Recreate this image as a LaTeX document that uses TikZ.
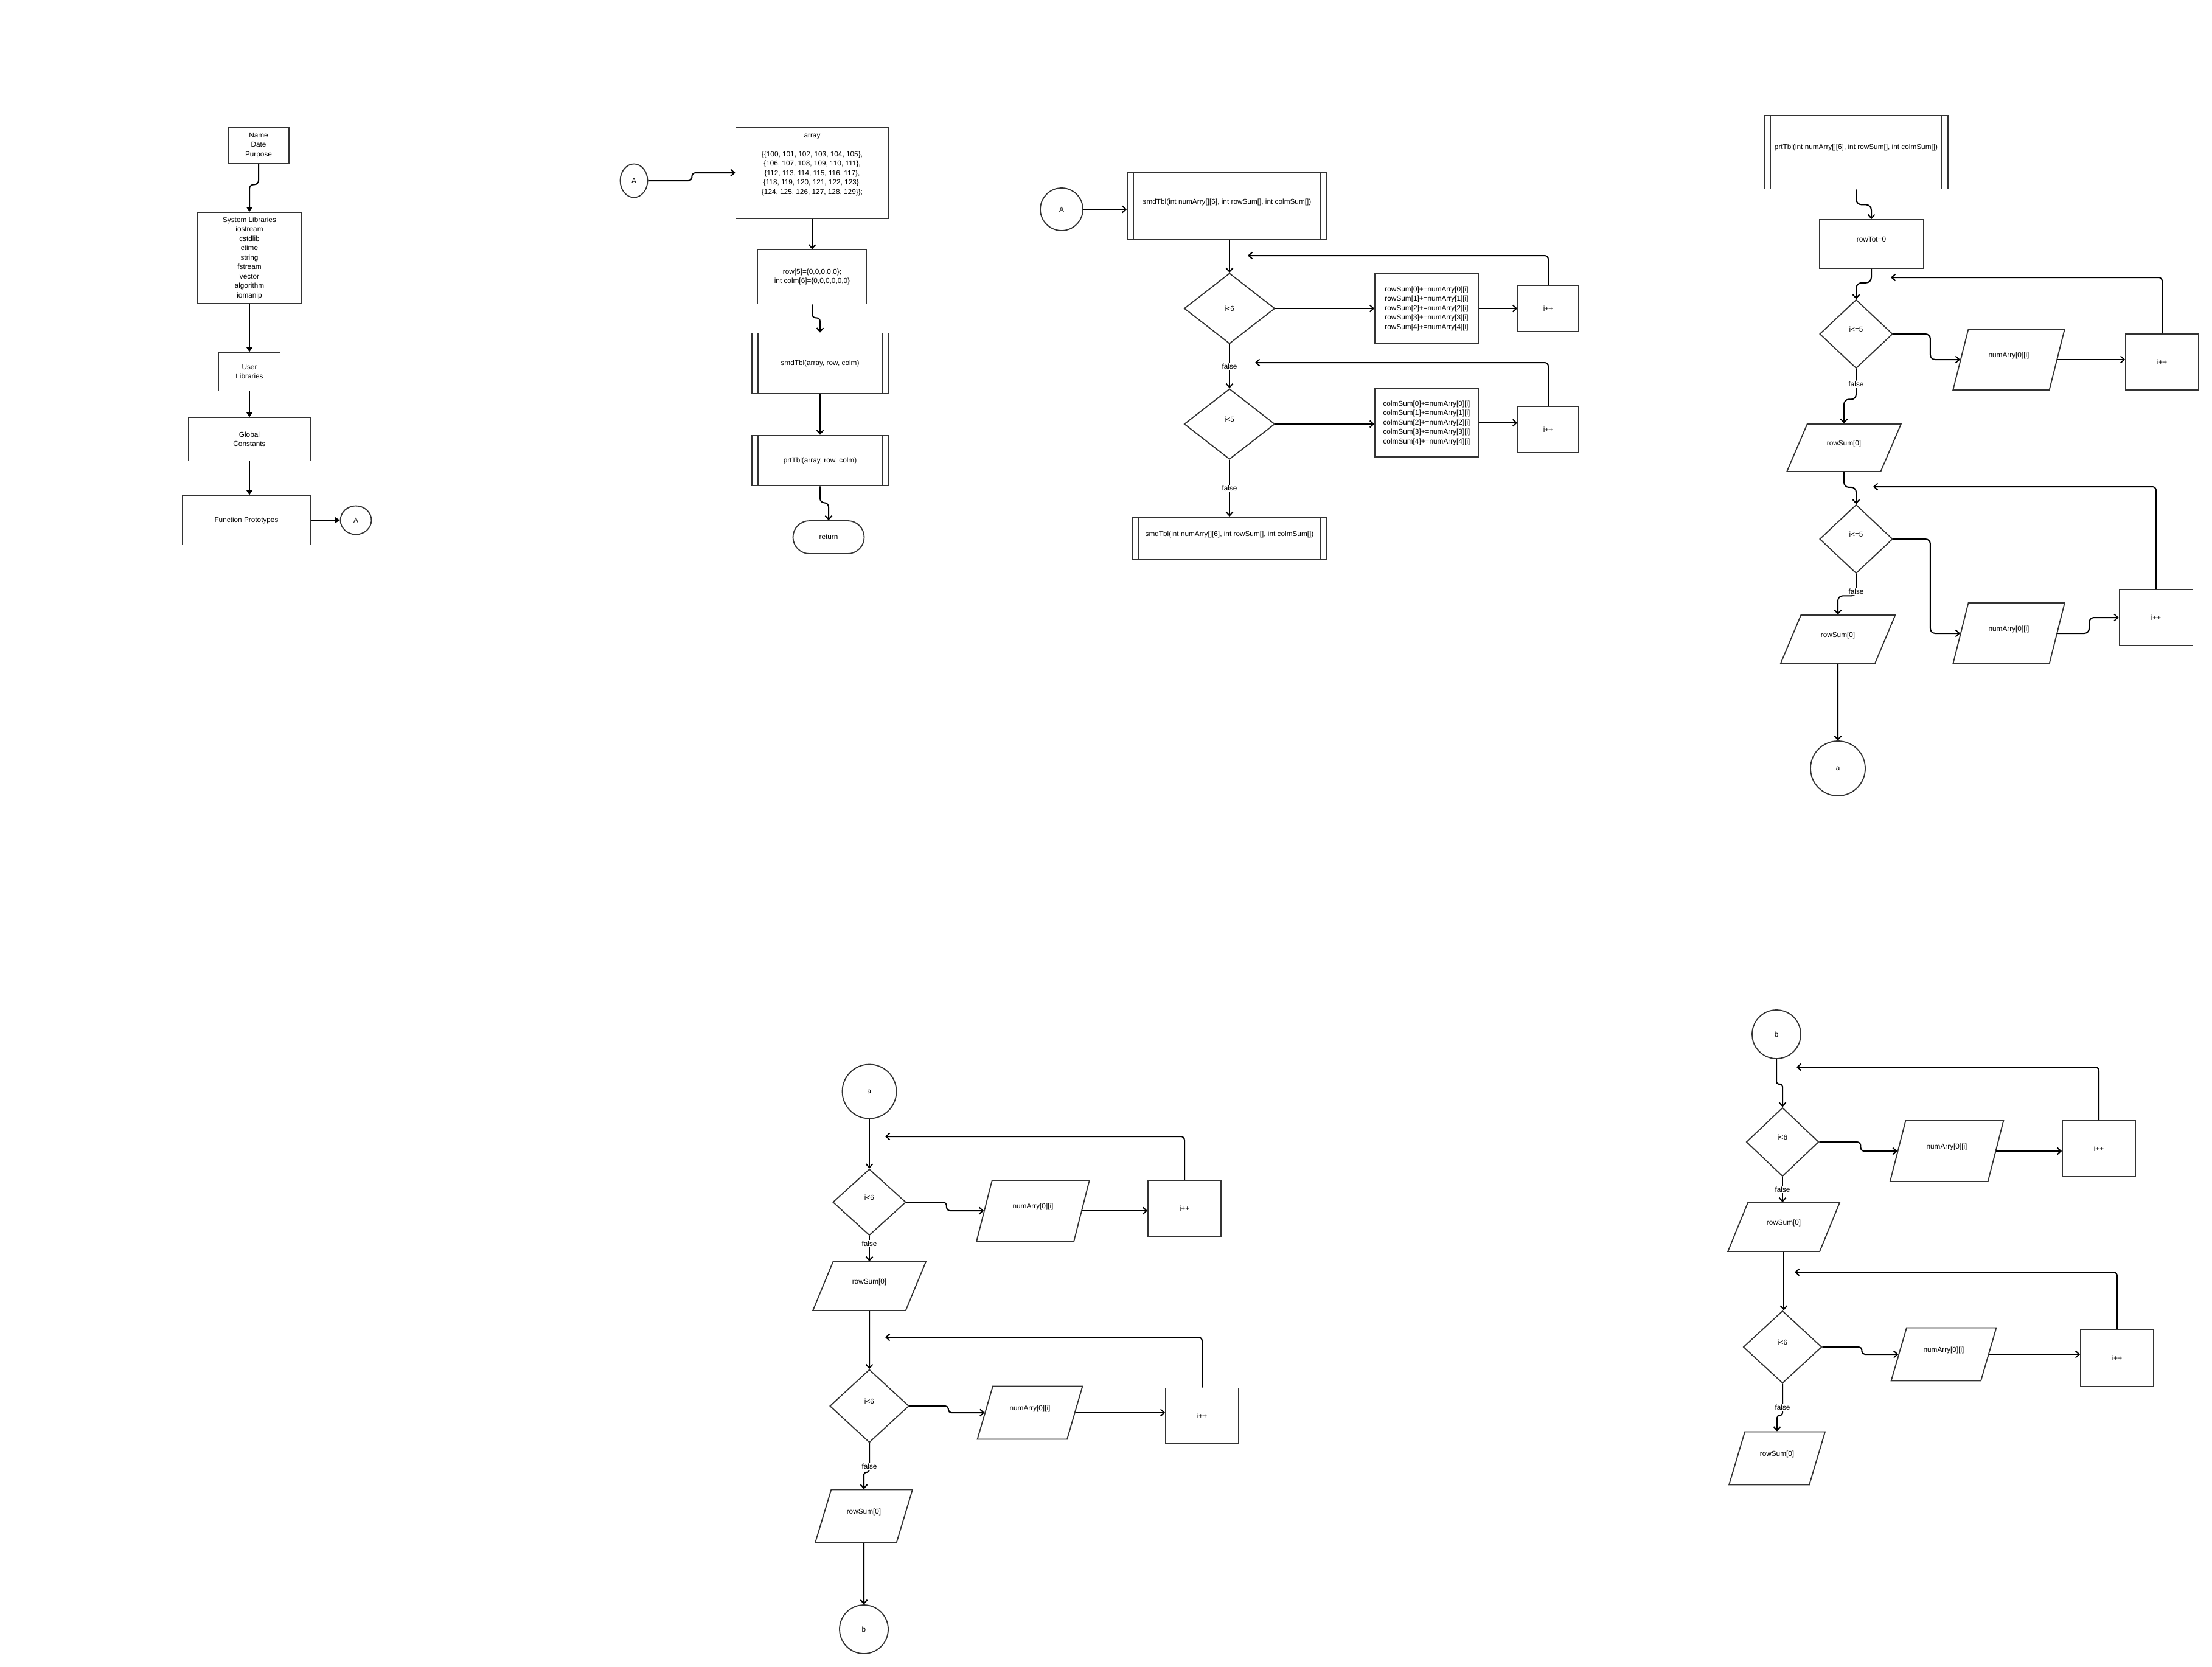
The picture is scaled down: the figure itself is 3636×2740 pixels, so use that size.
\documentclass[tikz,border=0pt]{standalone}
\usepackage{fontspec}
\setmainfont{Liberation Sans}
\usetikzlibrary{arrows.meta,shapes.geometric}
\tikzset{
  txt/.style={align=center, font=\fontsize{11.8}{15.5}\selectfont},
  base/.style={txt, draw=black!80, line width=1.8pt, inner sep=1pt},
  box/.style={base, rectangle},
  sub/.style={box, path picture={
      \draw[black!80, line width=1.8pt]
        ([xshift=10pt]path picture bounding box.north west) -- ([xshift=10pt]path picture bounding box.south west)
        ([xshift=-10pt]path picture bounding box.north east) -- ([xshift=-10pt]path picture bounding box.south east);}},
  dec/.style={base, diamond},
  io/.style={base, trapezium, trapezium stretches=true,
             trapezium left angle=#1, trapezium right angle={180-#1}},
  io/.default=65,
  conn/.style={base, ellipse},
  term/.style={base, rectangle, rounded corners=27pt},
  lift/.style={text height=9pt, text depth=17pt},
  edge/.style={-{Straight Barb[length=6pt,width=11pt]}, line width=2pt},
  fedge/.style={-{Triangle[length=8pt,width=10pt]}, line width=2pt},
  flabel/.style={txt, fill=white, inner sep=1.5pt}
}
\begin{document}
\begin{tikzpicture}[x=1pt, y=-1pt]
  \fill[white] (0,0) rectangle (3636,2740);
  \useasboundingbox (0,0) rectangle (3636,2740);

  % main: headers
  \node[box, minimum width=100, minimum height=59] (name) at (425,239) {Name\\Date\\Purpose};
  \node[box, minimum width=170, minimum height=150] (syslib) at (410,424)
    {System Libraries\\iostream\\cstdlib\\ctime\\string\\fstream\\vector\\algorithm\\iomanip};
  \node[box, minimum width=101, minimum height=63] (userlib) at (410,611) {User\\Libraries};
  \node[box, minimum width=200, minimum height=71] (global) at (410,722) {Global\\Constants};
  \node[box, minimum width=210, minimum height=81] (proto) at (405,855) {Function Prototypes};
  \node[conn, minimum width=51, minimum height=47] (A1) at (585,855) {A};

  \draw[fedge, rounded corners=7] (name.south) -- ++(0,34) -| (syslib.north);
  \draw[fedge] (syslib) -- (userlib);
  \draw[fedge] (userlib) -- (global);
  \draw[fedge] (global.south) -- (global.south |- proto.north);
  \draw[fedge] (proto) -- (A1);

  % main: body
  \node[conn, minimum width=45, minimum height=55] (A2) at (1042,297) {A};
  \node[box, minimum width=251, minimum height=150] (array) at (1335,284) {};
  \node[txt] (arraytxt) at (1335,271) {array\\[15.5pt]
    \{\{100, 101, 102, 103, 104, 105\},\\
    \{106, 107, 108, 109, 110, 111\},\\
    \{112, 113, 114, 115, 116, 117\},\\
    \{118, 119, 120, 121, 122, 123\},\\
    \{124, 125, 126, 127, 128, 129\}\};};
  \node[box, minimum width=179, minimum height=89] (row) at (1335,455)
    {row[5]=\{0,0,0,0,0\};\\int colm[6]=\{0,0,0,0,0,0\}};
  \node[sub, minimum width=224, minimum height=99] (smd1) at (1348,597) {smdTbl(array, row, colm)};
  \node[sub, minimum width=224, minimum height=83] (prt1) at (1348,757) {prtTbl(array, row, colm)};
  \node[term, minimum width=117, minimum height=54] (ret) at (1362,883) {return};

  \draw[edge, rounded corners=6] (A2.east) -- ++(72,0) |- (array.west);
  \draw[edge] (array) -- (row);
  \draw[edge, rounded corners=6] (row.south) -- ++(0,22) -| (smd1.north);
  \draw[edge] (smd1) -- (prt1);
  \draw[edge, rounded corners=7] (prt1.south) -- ++(0,27) -| (ret.north);

  % smdTbl
  \node[conn, minimum size=70] (A3) at (1745,344) {A};
  \node[sub, lift, minimum width=328, minimum height=110] (smd2) at (2017,339)
    {smdTbl(int numArry[][6], int rowSum[], int colmSum[])};
  \node[dec, minimum width=149, minimum height=116] (d1) at (2021,507) {i<6};
  \node[box, minimum width=170, minimum height=116] (rs) at (2345,507)
    {rowSum[0]+=numArry[0][i]\\rowSum[1]+=numArry[1][i]\\rowSum[2]+=numArry[2][i]\\rowSum[3]+=numArry[3][i]\\rowSum[4]+=numArry[4][i]};
  \node[box, minimum width=100, minimum height=75] (inc1) at (2545,507) {i++};
  \node[dec, lift, minimum width=149, minimum height=116] (d2) at (2021,697) {i<5};
  \node[box, minimum width=170, minimum height=112] (cs) at (2345,695)
    {colmSum[0]+=numArry[0][i]\\colmSum[1]+=numArry[1][i]\\colmSum[2]+=numArry[2][i]\\colmSum[3]+=numArry[3][i]\\colmSum[4]+=numArry[4][i]};
  \node[box, minimum width=100, minimum height=75] (inc2) at (2545,706) {i++};
  \node[sub, lift, minimum width=319, minimum height=70] (smd3) at (2021,885)
    {smdTbl(int numArry[][6], int rowSum[], int colmSum[])};
  \coordinate (lp1) at (2051,420);
  \coordinate (lp2) at (2063,596);

  \draw[edge] (A3.east) -- (A3.east -| smd2.west);
  \draw[edge] (d1.north |- smd2.south) -- (d1.north);
  \draw[edge] (d1) -- (rs);
  \draw[edge] (rs) -- (inc1);
  \draw[edge, rounded corners=6] (inc1.north) |- (lp1);
  \draw[edge] (d1) -- node[flabel]{false} (d2);
  \draw[edge] (d2.east) -- (d2.east -| cs.west);
  \draw[edge] (cs.east) -- (cs.east -| inc2.west);
  \draw[edge, rounded corners=6] (inc2.north) |- (lp2);
  \draw[edge] (d2) -- node[flabel]{false} (smd3);

  % prtTbl
  \node[sub, lift, minimum width=302, minimum height=121] (prt2) at (3051,250)
    {prtTbl(int numArry[][6], int rowSum[], int colmSum[])};
  \node[box, lift, minimum width=171, minimum height=80] (rowtot) at (3076,401) {rowTot=0};
  \node[dec, lift, minimum width=120, minimum height=113] (d3) at (3051,549) {i<=5};
  \node[io, lift, minimum width=184, minimum height=100] (p1) at (3302,591) {numArry[0][i]};
  \node[box, minimum width=120, minimum height=92] (inc3) at (3554,595) {i++};
  \node[io=60, lift, minimum width=188, minimum height=78] (p2) at (3031,736) {rowSum[0]};
  \node[dec, lift, minimum width=120, minimum height=113] (d4) at (3051,886) {i<=5};
  \node[io, lift, minimum width=184, minimum height=100] (p3) at (3302,1041) {numArry[0][i]};
  \node[box, minimum width=121, minimum height=92] (inc4) at (3544,1015) {i++};
  \node[io=60, lift, minimum width=189, minimum height=80] (p4) at (3021,1051) {rowSum[0]};
  \node[conn, minimum size=90] (a1) at (3021,1263) {a};
  \coordinate (lp3) at (3108,456);
  \coordinate (lp4) at (3079,800);

  \draw[edge, rounded corners=9] (prt2.south) -- ++(0,25) -| (rowtot.north);
  \draw[edge, rounded corners=9] (rowtot.south) -- ++(0,23) -| (d3.north);
  \draw[edge, rounded corners=8] (d3.east) -- ++(61,0) |- (p1.west);
  \draw[edge] (p1.east) -- (p1.east -| inc3.west);
  \draw[edge, rounded corners=6] (inc3.north) |- (lp3);
  \draw[edge, rounded corners=8] (d3.south) -- node[flabel]{false} ++(0,50) -| (p2.north);
  \draw[edge, rounded corners=8] (p2.south) -- ++(0,25) -| (d4.north);
  \draw[edge, rounded corners=8] (d4.east) -- ++(61,0) |- (p3.west);
  \draw[edge, rounded corners=8] (p3.east) -- ++(52,0) |- (inc4.west);
  \draw[edge, rounded corners=6] (inc4.north) |- (lp4);
  \draw[edge, rounded corners=8] (d4.south) -- node[flabel, pos=.8]{false} ++(0,36) -| (p4.north);
  \draw[edge] (p4) -- (a1);

  % connector a
  \node[conn, minimum size=89] (a2) at (1429,1794) {a};
  \node[dec, lift, minimum width=120, minimum height=109] (d5) at (1429,1976) {i<6};
  \node[io, lift, minimum width=186, minimum height=100] (p5) at (1698,1990) {numArry[0][i]};
  \node[box, minimum width=120, minimum height=92] (inc5) at (1947,1986) {i++};
  \node[io=60, lift, minimum width=186, minimum height=80] (p6) at (1429,2114) {rowSum[0]};
  \node[dec, lift, minimum width=130, minimum height=120] (d6) at (1429,2311) {i<6};
  \node[io=63, lift, minimum width=174, minimum height=87] (p7) at (1693,2322) {numArry[0][i]};
  \node[box, minimum width=120, minimum height=91] (inc6) at (1976,2327) {i++};
  \node[io=63, lift, minimum width=160, minimum height=87] (p8) at (1420,2492) {rowSum[0]};
  \node[conn, minimum size=80] (b1) at (1420,2678) {b};
  \coordinate (lp5) at (1455,1868);
  \coordinate (lp6) at (1455,2198);

  \draw[edge] (a2) -- (d5);
  \draw[edge, rounded corners=6] (d5.east) -- ++(66,0) |- (p5.west);
  \draw[edge] (p5.east) -- (p5.east -| inc5.west);
  \draw[edge, rounded corners=6] (inc5.north) |- (lp5);
  \draw[edge] (d5) -- node[flabel, pos=.3]{false} (p6);
  \draw[edge] (p6) -- (d6);
  \draw[edge, rounded corners=5] (d6.east) -- ++(64,0) |- (p7.west);
  \draw[edge] (p7.east) -- (p7.east -| inc6.west);
  \draw[edge, rounded corners=6] (inc6.north) |- (lp6);
  \draw[edge, rounded corners=4] (d6.south) -- node[flabel, pos=.8]{false} ++(0,48) -| (p8.north);
  \draw[edge] (p8) -- (b1);

  % connector b
  \node[conn, minimum size=80] (b2) at (2920,1700) {b};
  \node[dec, lift, minimum width=119, minimum height=113] (d7) at (2930,1877) {i<6};
  \node[io, lift, minimum width=187, minimum height=100] (p9) at (3200,1892) {numArry[0][i]};
  \node[box, minimum width=120, minimum height=92] (inc7) at (3450,1888) {i++};
  \node[io=60, lift, minimum width=184, minimum height=80] (p10) at (2932,2017) {rowSum[0]};
  \node[dec, lift, minimum width=129, minimum height=119] (d8) at (2930,2214) {i<6};
  \node[io=63, lift, minimum width=174, minimum height=87] (p11) at (3195,2226) {numArry[0][i]};
  \node[box, minimum width=120, minimum height=93] (inc8) at (3480,2232) {i++};
  \node[io=63, lift, minimum width=158, minimum height=87] (p12) at (2921,2397) {rowSum[0]};
  \coordinate (lp7) at (2953,1754);
  \coordinate (lp8) at (2950,2091);

  \draw[edge, rounded corners=4] (b2.south) -- ++(0,41) -| (d7.north);
  \draw[edge, rounded corners=6] (d7.east) -- ++(68,0) |- (p9.west);
  \draw[edge] (p9.east) -- (p9.east -| inc7.west);
  \draw[edge, rounded corners=6] (inc7.north) |- (lp7);
  \draw[edge] (d7.south) -- node[flabel]{false} (d7.south |- p10.north);
  \draw[edge] (p10.south) -- (p10.south |- d8.north);
  \draw[edge, rounded corners=5] (d8.east) -- ++(65,0) |- (p11.west);
  \draw[edge] (p11.east) -- (p11.east -| inc8.west);
  \draw[edge, rounded corners=6] (inc8.north) |- (lp8);
  \draw[edge, rounded corners=4] (d8.south) -- node[flabel, pos=.75]{false} ++(0,52) -| (p12.north);
\end{tikzpicture}
\end{document}
